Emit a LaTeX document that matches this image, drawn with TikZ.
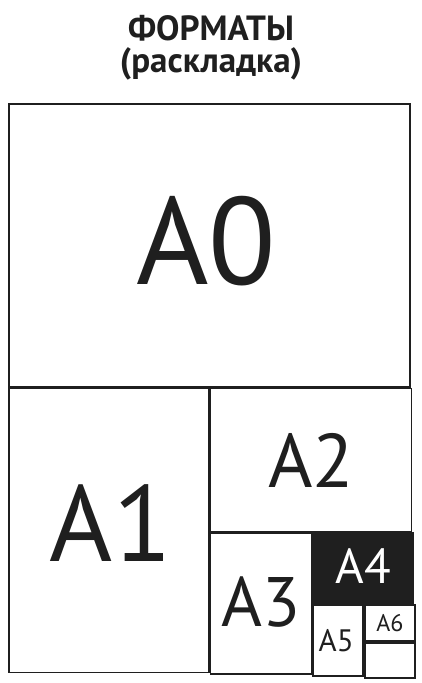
\documentclass[tikz,border=0pt]{standalone}
\usepackage{fontspec}
\setmainfont{PT Sans}
\usetikzlibrary{positioning}

\tikzset{
  sheet/.style={draw=black!88, line width=1.7pt, rectangle, inner sep=0pt, fill=white},
  sheetdark/.style={sheet, fill=black!88},
  lbl/.style={inner sep=0pt, text=black!88},
}
\newcommand{\fsz}[1]{\fontsize{#1}{#1}\selectfont}

\begin{document}
\begin{tikzpicture}[x=1pt, y=-1pt]
  \useasboundingbox (0,0) rectangle (422,683);

  % title
  \node[lbl, font=\fsz{35}\bfseries] (title) at (211,28) {ФОРМАТЫ};
  \node[lbl, font=\fsz{35}\bfseries, below=6pt of title] (subtitle) {(раскладка)};

  % sheets
  \node[sheet, minimum width=401pt, minimum height=283pt, anchor=north west] (a0) at (8,103) {};
  \node[sheet, minimum width=200pt, minimum height=284pt, anchor=north west] (a1) at (a0.south west) {};
  \node[sheet, minimum width=201pt, minimum height=143pt, anchor=north west] (a2) at (a1.north east) {};
  \node[sheet, minimum width=101pt, minimum height=141pt, anchor=north west] (a3) at (a2.south west) {};
  \node[sheetdark, minimum width=100pt, minimum height=70pt, anchor=north west] (a4) at (a3.north east) {};
  \node[sheet, minimum width=50pt, minimum height=71pt, anchor=north west] (a5) at (a4.south west) {};
  \node[sheet, minimum width=50pt, minimum height=36pt, anchor=north west] (a6) at (a5.north east) {};
  \node[sheet, minimum width=50pt, minimum height=35pt, anchor=north west] (a7) at (a6.south west) {};

  % labels
  \node[lbl, font=\fsz{124}] at ([xshift=-3pt, yshift=4pt]a0.center) {A0};
  \node[lbl, font=\fsz{108}] at ([xshift=2pt, yshift=8pt]a1.center) {A1};
  \node[lbl, font=\fsz{76}] at (a2.center) {A2};
  \node[lbl, font=\fsz{70}] at ([yshift=2pt]a3.center) {A3};
  \node[lbl, font=\fsz{49}, text=white] at ([yshift=2pt]a4.center) {A4};
  \node[lbl, font=\fsz{31}] at ([xshift=-2pt]a5.center) {A5};
  \node[lbl, font=\fsz{24}] at (a6.center) {A6};
\end{tikzpicture}
\end{document}
